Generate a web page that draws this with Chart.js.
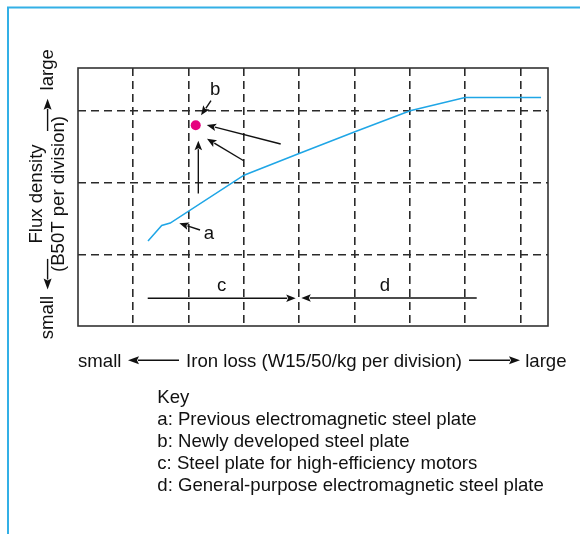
<!DOCTYPE html>
<html>
<head>
<meta charset="utf-8">
<script src="https://cdn.jsdelivr.net/npm/chart.js@4"></script>
<style>
  html, body { margin: 0; padding: 0; background: #ffffff; }
  #wrap { width: 580px; height: 534px; position: relative; }
</style>
</head>
<body>
<div id="wrap"><canvas id="c"></canvas></div>
<script>
// ---- data (axis units: divisions) ----
const curveX = [1.266, 1.514, 1.668, 3.002, 4.01, 5.02, 6.007, 7.0, 8.374];
const curveY = [1.185, 1.402, 1.436, 2.104, 2.41, 2.714, 3.004, 3.188, 3.188];
const newPlateX = [2.129];
const newPlateY = [2.80];
const xGridTicks = [1, 2, 3, 4, 5, 6, 7, 8];
const yGridTicks = [1, 2, 3];
const xRange = [0, 8.5];
const yRange = [0, 3.6];

// annotation arrows: [fromX, fromY, toX, toY] in data units
const arrowFromX = [2.405, 3.666, 2.997, 2.176, 2.207, 1.261, 7.211];
const arrowFromY = [3.144, 2.539, 2.306, 1.849, 1.339, 0.387, 0.390];
const arrowToX   = [2.225, 2.328, 2.333, 2.176, 1.832, 3.937, 4.039];
const arrowToY   = [2.940, 2.805, 2.613, 2.586, 1.433, 0.387, 0.390];

const labelText = ['b', 'a', 'c', 'd'];
const labelX = [2.479, 2.369, 2.599, 5.552];
const labelY = [3.223, 1.214, 0.4925, 0.4925];

const keyTitle = 'Key';
const keyLines = [
  'a: Previous electromagnetic steel plate',
  'b: Newly developed steel plate',
  'c: Steel plate for high-efficiency motors',
  'd: General-purpose electromagnetic steel plate'
];
const xTitle = ['small', 'Iron loss (W15/50/kg per division)', 'large'];
const yTitle = ['Flux density', '(B50T per division)', 'small', 'large'];

const FONT = '18.6px "Liberation Sans", Arial, Helvetica, sans-serif';

function drawArrow(ctx, x1, y1, x2, y2, hl, hw, lw) {
  const dx = x2 - x1, dy = y2 - y1;
  const len = Math.hypot(dx, dy);
  const ux = dx / len, uy = dy / len;
  const bx = x2 - ux * hl, by = y2 - uy * hl;
  ctx.lineWidth = lw;
  ctx.beginPath();
  ctx.moveTo(x1, y1);
  ctx.lineTo(bx + ux * 1, by + uy * 1);
  ctx.stroke();
  ctx.beginPath();
  ctx.moveTo(x2, y2);
  ctx.lineTo(bx - uy * hw, by + ux * hw);
  ctx.lineTo(bx + ux * 2, by + uy * 2);
  ctx.lineTo(bx + uy * hw, by - ux * hw);
  ctx.closePath();
  ctx.fill();
}

const decor = {
  id: 'decor',
  afterDatasetsDraw(chart) {
    const ctx = chart.ctx;
    const xs = chart.scales.x, ys = chart.scales.y;
    const a = chart.chartArea;
    ctx.save();
    // plot frame
    ctx.strokeStyle = '#333333';
    ctx.lineWidth = 1.6;
    ctx.strokeRect(a.left, a.top, a.right - a.left, a.bottom - a.top);
    // arrows
    ctx.strokeStyle = '#111111';
    ctx.fillStyle = '#111111';
    for (let i = 0; i < arrowFromX.length; i++) {
      drawArrow(ctx,
        xs.getPixelForValue(arrowFromX[i]), ys.getPixelForValue(arrowFromY[i]),
        xs.getPixelForValue(arrowToX[i]), ys.getPixelForValue(arrowToY[i]),
        9.5, 3.8, 1.4);
    }
    // labels
    ctx.font = FONT;
    ctx.textAlign = 'center';
    ctx.textBaseline = 'alphabetic';
    for (let i = 0; i < labelText.length; i++) {
      ctx.fillText(labelText[i], xs.getPixelForValue(labelX[i]), ys.getPixelForValue(labelY[i]));
    }
    ctx.restore();
  },
  afterDraw(chart) {
    const ctx = chart.ctx;
    ctx.save();
    // outer blue frame
    ctx.strokeStyle = '#33b0e6';
    ctx.lineWidth = 2;
    ctx.beginPath();
    ctx.moveTo(8, 534);
    ctx.lineTo(8, 7.5);
    ctx.lineTo(580, 7.5);
    ctx.stroke();

    ctx.fillStyle = '#111111';
    ctx.strokeStyle = '#111111';
    ctx.font = FONT;
    // x title row
    ctx.textBaseline = 'alphabetic';
    ctx.textAlign = 'left';
    ctx.fillText(xTitle[0], 78, 366.5);
    ctx.textAlign = 'center';
    ctx.fillText(xTitle[1], 324, 366.5);
    ctx.textAlign = 'right';
    ctx.fillText(xTitle[2], 566.5, 366.5);
    drawArrow(ctx, 179, 360.3, 128, 360.3, 11, 4, 1.4);
    drawArrow(ctx, 469, 360.3, 520, 360.3, 11, 4, 1.4);

    // y title (rotated)
    const rot = (txt, x, y) => {
      ctx.save();
      ctx.translate(x, y);
      ctx.rotate(-Math.PI / 2);
      ctx.textAlign = 'center';
      ctx.textBaseline = 'middle';
      ctx.fillText(txt, 0, 0);
      ctx.restore();
    };
    rot(yTitle[0], 36.5, 194);
    rot(yTitle[1], 58.5, 194);
    rot(yTitle[2], 48, 317.6);
    rot(yTitle[3], 48, 69.8);
    drawArrow(ctx, 47.6, 131, 47.6, 98.8, 11, 4, 1.4);
    drawArrow(ctx, 47.6, 258.9, 47.6, 289.5, 11, 4, 1.4);

    // key
    ctx.textAlign = 'left';
    ctx.textBaseline = 'alphabetic';
    ctx.fillText(keyTitle, 157.3, 403);
    for (let i = 0; i < keyLines.length; i++) {
      ctx.fillText(keyLines[i], 157.3, 425 + i * 22);
    }
    ctx.restore();
  }
};

const curveData = curveX.map((x, i) => ({ x: x, y: curveY[i] }));
const pointData = newPlateX.map((x, i) => ({ x: x, y: newPlateY[i] }));

new Chart(document.getElementById('c'), {
  type: 'scatter',
  data: {
    datasets: [
      {
        label: 'a',
        data: curveData,
        showLine: true,
        borderColor: '#1fa6e6',
        borderWidth: 1.5,
        pointRadius: 0,
        tension: 0
      },
      {
        label: 'b',
        data: pointData,
        pointRadius: 5,
        pointBackgroundColor: '#e6007e',
        pointBorderWidth: 0,
        backgroundColor: '#e6007e'
      }
    ]
  },
  options: {
    responsive: true,
    maintainAspectRatio: false,
    animation: false,
    events: [],
    layout: { padding: { left: 78, top: 68, right: 32, bottom: 208 } },
    plugins: { legend: { display: false }, tooltip: { enabled: false } },
    scales: {
      x: {
        type: 'linear',
        min: xRange[0], max: xRange[1],
        afterBuildTicks: (s) => { s.ticks = xGridTicks.map(v => ({ value: v })); },
        ticks: { display: false },
        grid: { color: '#2a2a2a', lineWidth: 1.6, drawTicks: false },
        border: { display: false, dash: [8, 5] }
      },
      y: {
        type: 'linear',
        min: yRange[0], max: yRange[1],
        afterBuildTicks: (s) => { s.ticks = yGridTicks.map(v => ({ value: v })); },
        ticks: { display: false },
        grid: { color: '#2a2a2a', lineWidth: 1.6, drawTicks: false },
        border: { display: false, dash: [8, 5] }
      }
    }
  },
  plugins: [decor]
});
</script>
</body>
</html>
